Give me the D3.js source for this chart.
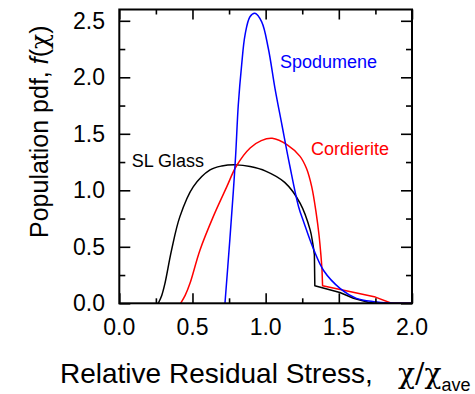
<!DOCTYPE html>
<html>
<head>
<meta charset="utf-8">
<script src="https://cdn.jsdelivr.net/npm/d3@7"></script>
<style>
  html, body { margin: 0; padding: 0; background: #fff; }
  svg { display: block; font-family: "Liberation Sans", Arial, Helvetica, sans-serif; }
</style>
</head>
<body>
<svg id="chart" width="475" height="394"></svg>
<script>
// Population probability density of relative residual stress for three glasses.
// Each series: a smooth body over the first `...Smooth` points, then straight segments (drop + tail).
const glassX = [0.266, 0.29, 0.312, 0.357, 0.414, 0.505, 0.62, 0.70, 0.80, 0.894, 1.0, 1.13, 1.236, 1.304, 1.322, 1.333, 1.336, 1.507, 1.6, 1.7, 1.75, 2.0];
const glassY = [0, 0.07, 0.177, 0.47, 0.767, 1.03, 1.18, 1.215, 1.225, 1.21, 1.17, 1.07, 0.885, 0.65, 0.53, 0.43, 0.155, 0.095, 0.045, 0.01, 0, 0];
const glassSmooth = 16;

const cordX = [0.419, 0.45, 0.483, 0.551, 0.642, 0.734, 0.80, 0.894, 0.97, 1.045, 1.15, 1.235, 1.28, 1.315, 1.345, 1.365, 1.378, 1.385, 1.389, 1.75, 1.86, 2.0];
const cordY = [0, 0.07, 0.177, 0.47, 0.767, 1.03, 1.215, 1.375, 1.44, 1.46, 1.40, 1.30, 1.19, 1.03, 0.80, 0.60, 0.42, 0.30, 0.155, 0.055, 0, 0];
const cordSmooth = 18;

const spodX = [0.722, 0.756, 0.779, 0.795, 0.813, 0.836, 0.859, 0.893, 0.927, 0.973, 1.018, 1.064, 1.111, 1.164, 1.225, 1.26, 1.327, 1.396, 1.51, 1.62, 1.74, 1.85, 2.0];
const spodY = [0, 0.575, 0.988, 1.31, 1.755, 2.11, 2.374, 2.536, 2.566, 2.49, 2.257, 1.90, 1.58, 1.224, 0.855, 0.72, 0.48, 0.29, 0.13, 0.044, 0.014, 0.003, 0];
const spodSmooth = spodX.length;

const seriesNames = ["SL Glass", "Cordierite", "Spodumene"];
const seriesColors = ["#000000", "#ff0000", "#0000ff"];

const xMajor = [0, 0.5, 1.0, 1.5, 2.0];
const xMinor = [0.25, 0.75, 1.25, 1.75];
const yMajor = [0, 0.5, 1.0, 1.5, 2.0, 2.5];
const yMinor = [0.25, 0.75, 1.25, 1.75, 2.25];

const svg = d3.select("#chart");
const plotLeft = 119.3, plotRight = 412, plotTop = 9.5, plotBottom = 303.3;

const x = d3.scaleLinear().domain([0, 2]).range([plotLeft, plotRight]);
const y = d3.scaleLinear().domain([0, 2.6]).range([plotBottom, plotTop]);

// Curves: smooth body, then linear drop and tail, in one path
const series = [
  [d3.zip(glassX, glassY), glassSmooth],
  [d3.zip(cordX, cordY), cordSmooth],
  [d3.zip(spodX, spodY), spodSmooth]
];
series.forEach(([pts, nSmooth], i) => {
  const p = d3.path();
  d3.line().x(d => x(d[0])).y(d => y(d[1]))
    .curve(d3.curveCatmullRom.alpha(0.5)).context(p)(pts.slice(0, nSmooth));
  if (nSmooth < pts.length) {
    pts.slice(nSmooth).forEach(d => p.lineTo(x(d[0]), y(d[1])));
  }
  svg.append("path")
    .attr("d", p.toString())
    .attr("fill", "none")
    .attr("stroke", seriesColors[i])
    .attr("stroke-width", 1.5)
    .attr("stroke-linejoin", "round");
});

// Inward ticks on all four sides
function ticks(axisFn, scale, values, size, transform) {
  const g = svg.append("g").attr("transform", transform)
    .call(axisFn(scale).tickValues(values).tickSize(-size).tickFormat(""));
  g.select(".domain").remove();
  g.selectAll(".tick line").attr("stroke", "#000").attr("stroke-width", 1.6);
  return g;
}
ticks(d3.axisBottom, x, xMajor, 10, `translate(0,${plotBottom})`);
ticks(d3.axisBottom, x, xMinor, 5, `translate(0,${plotBottom})`);
ticks(d3.axisTop, x, xMajor, 10, `translate(0,${plotTop})`);
ticks(d3.axisTop, x, xMinor, 5, `translate(0,${plotTop})`);
ticks(d3.axisLeft, y, yMajor, 11, `translate(${plotLeft},0)`);
ticks(d3.axisLeft, y, yMinor, 6, `translate(${plotLeft},0)`);
ticks(d3.axisRight, y, yMajor, 11, `translate(${plotRight},0)`);
ticks(d3.axisRight, y, yMinor, 6, `translate(${plotRight},0)`);

// Frame
svg.append("rect")
  .attr("x", plotLeft).attr("y", plotTop)
  .attr("width", plotRight - plotLeft).attr("height", plotBottom - plotTop)
  .attr("fill", "none").attr("stroke", "#000").attr("stroke-width", 2);

// Tick labels
const fmt = d3.format(".1f");
svg.append("g").selectAll("text").data(xMajor).join("text")
  .attr("x", d => x(d)).attr("y", 335)
  .attr("text-anchor", "middle").attr("font-size", 23)
  .text(fmt);
svg.append("g").selectAll("text").data(yMajor).join("text")
  .attr("x", 105).attr("y", d => y(d)).attr("dy", "0.35em")
  .attr("text-anchor", "end").attr("font-size", 23)
  .text(fmt);

// Axis titles
svg.append("text").attr("x", 60).attr("y", 383).attr("font-size", 28)
  .text("Relative Residual Stress,");
const xt = svg.append("text").attr("x", 398).attr("y", 383).attr("font-size", 28)
  .attr("font-family", "DejaVu Serif, serif");
xt.append("tspan").text("χ/χ");
xt.append("tspan").attr("dy", 8).attr("font-size", 18)
  .attr("font-family", "Liberation Sans, Arial, sans-serif").text("ave");

const yt = svg.append("text")
  .attr("transform", "translate(48,238) rotate(-90)")
  .attr("font-size", 25);
yt.append("tspan").text("Population pdf,  ");
yt.append("tspan").attr("font-style", "italic").text("f");
yt.append("tspan").text("(");
yt.append("tspan").attr("font-family", "DejaVu Serif, serif").text("χ");
yt.append("tspan").text(")");

// Series labels
const labelPos = [[131.7, 166.7], [311, 155], [280, 68]];
seriesNames.forEach((name, i) => {
  svg.append("text")
    .attr("x", labelPos[i][0]).attr("y", labelPos[i][1])
    .attr("font-size", 18).attr("fill", seriesColors[i])
    .text(name);
});
</script>
</body>
</html>
